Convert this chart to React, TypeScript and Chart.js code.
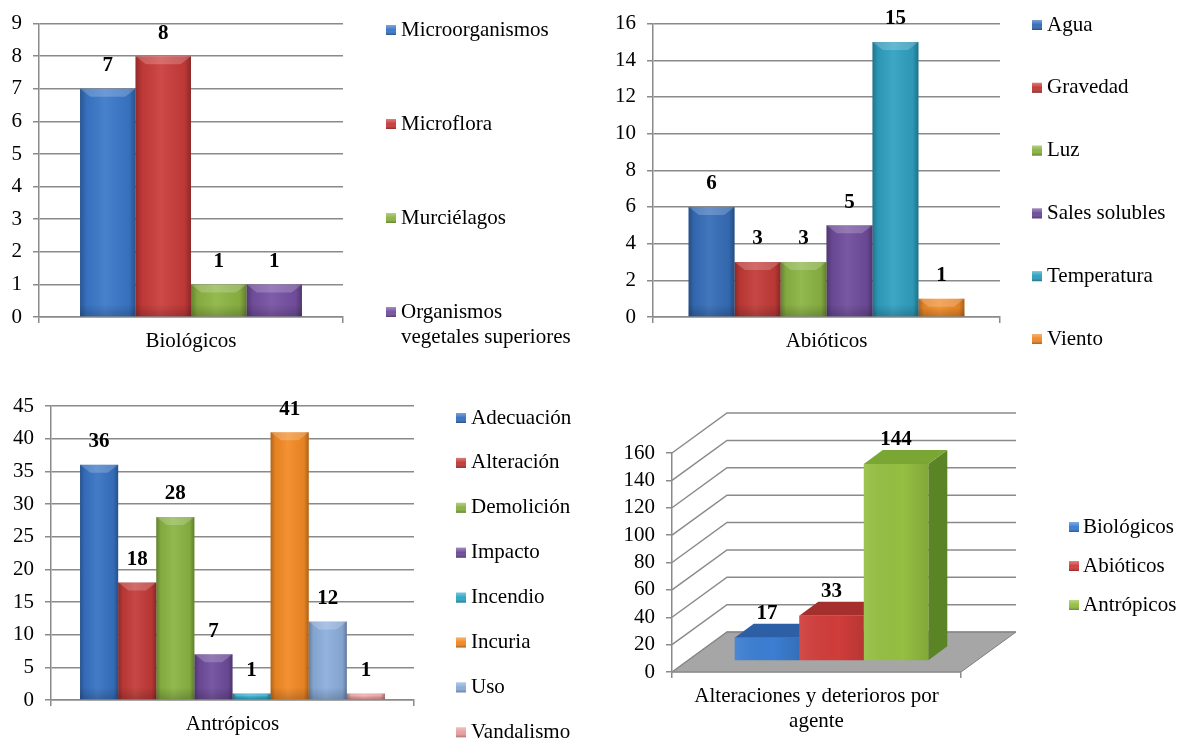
import React, { useEffect, useRef } from 'react';
import { Chart, registerables } from 'chart.js';

Chart.register(...registerables);

// ---------------- data ----------------
const bioCategories = ['Biológicos'];
const bioSeries = ['Microorganismos', 'Microflora', 'Murciélagos', 'Organismos vegetales superiores'];
const bioValues = [7, 8, 1, 1];
const bioTickMax = 9;
const bioTickStep = 1;

const abioCategories = ['Abióticos'];
const abioSeries = ['Agua', 'Gravedad', 'Luz', 'Sales solubles', 'Temperatura', 'Viento'];
const abioValues = [6, 3, 3, 5, 15, 1];
const abioTickMax = 16;
const abioTickStep = 2;

const antroCategories = ['Antrópicos'];
const antroSeries = ['Adecuación', 'Alteración', 'Demolición', 'Impacto', 'Incendio', 'Incuria', 'Uso', 'Vandalismo'];
const antroValues = [36, 18, 28, 7, 1, 41, 12, 1];
const antroTickMax = 45;
const antroTickStep = 5;

const totalCategories = [['Alteraciones y deterioros por', 'agente']];
const totalSeries = ['Biológicos', 'Abióticos', 'Antrópicos'];
const totalValues = [17, 33, 144];
const totalTickMax = 160;
const totalTickStep = 20;

// ---------------- styles ----------------
const FONT = "'Liberation Serif', 'Times New Roman', Times, serif";
const FS = 21;
const GRID = '#8a8a8a';
const GW = 1.5;

const bioColors = ['#3a78c9', '#c93c3a', '#8db543', '#7651a3'];
const abioColors = ['#356db8', '#c23a37', '#8ab443', '#6f4c9c', '#2fa0c0', '#f08a28'];
const antroColors = ['#3772c2', '#c23a37', '#8ab443', '#6f4c9c', '#2fa8c9', '#f38a24', '#8caedd', '#ea9f9f'];
const totalColors = ['#3c7ed2', '#d03d3b', '#94bf42'];
const totalTopColors = ['#2c5fa6', '#a52f2c', '#7aa634'];
const totalSideColors = ['#24508e', '#8a2624', '#5b8427'];

type Area = { l: number; r: number; t: number; b: number };
type LegendPos = { box: number; text: number; y0: number; step: number; wrap: number };
type Spec = {
  left: number; top: number; width: number; height: number;
  area: Area;
  categories: any[];
  series: string[];
  values: number[];
  colors: string[];
  max: number; step: number;
  catPct: number;
  legend: LegendPos;
  threeD?: boolean;
};

function swatch(ctx: CanvasRenderingContext2D, x: number, y: number, s: number, color: string) {
  ctx.fillStyle = color;
  ctx.fillRect(x, y, s, s);
  const g = ctx.createLinearGradient(x, y, x, y + s);
  g.addColorStop(0, 'rgba(255,255,255,0.35)');
  g.addColorStop(0.5, 'rgba(255,255,255,0)');
  g.addColorStop(1, 'rgba(0,0,0,0.3)');
  ctx.fillStyle = g;
  ctx.fillRect(x, y, s, s);
}

function legendPlugin(pos: LegendPos) {
  return {
    id: 'sideLegend',
    afterDraw(chart: any) {
      const ctx: CanvasRenderingContext2D = chart.ctx;
      ctx.save();
      ctx.font = `${FS}px ${FONT}`;
      ctx.textBaseline = 'middle';
      ctx.textAlign = 'left';
      chart.data.datasets.forEach((ds: any, i: number) => {
        const y = pos.y0 + i * pos.step;
        const words = String(ds.label).split(' ');
        const lines: string[] = [];
        let cur = '';
        words.forEach((w) => {
          const t = cur ? cur + ' ' + w : w;
          if (cur && ctx.measureText(t).width > pos.wrap) {
            lines.push(cur);
            cur = w;
          } else cur = t;
        });
        lines.push(cur);
        swatch(ctx, pos.box, y - 5, 10, ds.backgroundColor);
        ctx.fillStyle = '#000';
        lines.forEach((ln, k) => ctx.fillText(ln, pos.text, y + k * 25));
      });
      ctx.restore();
    },
  };
}

const flatBarPlugin = {
  id: 'flatBars',
  afterDatasetsDraw(chart: any) {
    const ctx: CanvasRenderingContext2D = chart.ctx;
    ctx.save();
    chart.data.datasets.forEach((ds: any, i: number) => {
      chart.getDatasetMeta(i).data.forEach((el: any, j: number) => {
        const p = el.getProps(['x', 'y', 'base', 'width'], true);
        const l = p.x - p.width / 2;
        const r = p.x + p.width / 2;
        const t = p.y;
        const b = p.base;
        const h = b - t;
        const g = ctx.createLinearGradient(l, 0, r, 0);
        g.addColorStop(0, 'rgba(0,0,0,0.28)');
        g.addColorStop(0.12, 'rgba(0,0,0,0.06)');
        g.addColorStop(0.45, 'rgba(255,255,255,0.07)');
        g.addColorStop(0.88, 'rgba(0,0,0,0.06)');
        g.addColorStop(1, 'rgba(0,0,0,0.3)');
        ctx.fillStyle = g;
        ctx.fillRect(l, t, r - l, h);
        const bh = Math.min(8, h / 2);
        ctx.fillStyle = 'rgba(255,255,255,0.2)';
        ctx.beginPath();
        ctx.moveTo(l, t);
        ctx.lineTo(r, t);
        ctx.lineTo(r - bh * 1.3, t + bh);
        ctx.lineTo(l + bh * 1.3, t + bh);
        ctx.closePath();
        ctx.fill();
        const gb = ctx.createLinearGradient(0, b - Math.min(12, h / 2), 0, b);
        gb.addColorStop(0, 'rgba(0,0,0,0)');
        gb.addColorStop(1, 'rgba(0,0,0,0.18)');
        ctx.fillStyle = gb;
        ctx.fillRect(l, b - Math.min(12, h / 2), r - l, Math.min(12, h / 2));
        // value label
        ctx.fillStyle = '#000';
        ctx.font = `bold ${FS}px ${FONT}`;
        ctx.textAlign = 'center';
        ctx.textBaseline = 'middle';
        ctx.fillText(String(ds.data[j]), p.x, t - 23);
      });
    });
    ctx.restore();
  },
};

function threeDPlugin(topColors: string[], sideColors: string[]) {
  const WALL_DX = 55, WALL_DY = -40;
  const BAR_DX = 15, BAR_DY = -11;
  const DEPTH_DX = 19, DEPTH_DY = -14;
  return {
    id: 'threeD',
    beforeDatasetsDraw(chart: any) {
      const ctx: CanvasRenderingContext2D = chart.ctx;
      const { left, right } = chart.chartArea;
      const ys = chart.scales.y;
      const y0 = ys.getPixelForValue(0);
      ctx.save();
      ctx.beginPath();
      ctx.moveTo(left, y0);
      ctx.lineTo(right, y0);
      ctx.lineTo(right + WALL_DX, y0 + WALL_DY);
      ctx.lineTo(left + WALL_DX, y0 + WALL_DY);
      ctx.closePath();
      ctx.fillStyle = '#a6a6a6';
      ctx.fill();
      ctx.strokeStyle = '#7f7f7f';
      ctx.lineWidth = 1;
      ctx.stroke();
      ctx.strokeStyle = GRID;
      ctx.lineWidth = GW;
      ys.ticks.forEach((t: any) => {
        const y = ys.getPixelForValue(t.value);
        ctx.beginPath();
        ctx.moveTo(left, y);
        ctx.lineTo(left + WALL_DX, y + WALL_DY);
        ctx.lineTo(right + WALL_DX, y + WALL_DY);
        ctx.stroke();
      });
      ctx.restore();

      ctx.save();
      ctx.translate(BAR_DX, BAR_DY);
      chart.data.datasets.forEach((ds: any, i: number) => {
        chart.getDatasetMeta(i).data.forEach((el: any) => {
          const p = el.getProps(['x', 'y', 'base', 'width'], true);
          const l = p.x - p.width / 2;
          const r = p.x + p.width / 2;
          ctx.fillStyle = sideColors[i];
          ctx.beginPath();
          ctx.moveTo(r, p.y);
          ctx.lineTo(r + DEPTH_DX, p.y + DEPTH_DY);
          ctx.lineTo(r + DEPTH_DX, p.base + DEPTH_DY);
          ctx.lineTo(r, p.base);
          ctx.closePath();
          ctx.fill();
          ctx.fillStyle = topColors[i];
          ctx.beginPath();
          ctx.moveTo(l, p.y);
          ctx.lineTo(r, p.y);
          ctx.lineTo(r + DEPTH_DX, p.y + DEPTH_DY);
          ctx.lineTo(l + DEPTH_DX, p.y + DEPTH_DY);
          ctx.closePath();
          ctx.fill();
        });
      });
    },
    afterDatasetsDraw(chart: any) {
      const ctx: CanvasRenderingContext2D = chart.ctx;
      chart.data.datasets.forEach((ds: any, i: number) => {
        chart.getDatasetMeta(i).data.forEach((el: any) => {
          const p = el.getProps(['x', 'y', 'base', 'width'], true);
          const l = p.x - p.width / 2;
          const r = p.x + p.width / 2;
          const g = ctx.createLinearGradient(l, 0, r, 0);
          g.addColorStop(0, 'rgba(255,255,255,0.08)');
          g.addColorStop(0.6, 'rgba(0,0,0,0)');
          g.addColorStop(1, 'rgba(0,0,0,0.12)');
          ctx.fillStyle = g;
          ctx.fillRect(l, p.y, r - l, p.base - p.y);
        });
      });
      ctx.restore();
      ctx.save();
      ctx.fillStyle = '#000';
      ctx.font = `bold ${FS}px ${FONT}`;
      ctx.textAlign = 'center';
      ctx.textBaseline = 'middle';
      chart.data.datasets.forEach((ds: any, i: number) => {
        chart.getDatasetMeta(i).data.forEach((el: any, j: number) => {
          const p = el.getProps(['x', 'y'], true);
          ctx.fillText(String(ds.data[j]), p.x + BAR_DX, p.y + BAR_DY - 24);
        });
      });
      ctx.restore();
    },
  };
}

function buildConfig(spec: Spec): any {
  const yAxisWidth = spec.area.l;
  const xAxisHeight = spec.height - spec.area.b;
  const tickFont = { family: FONT, size: FS, lineHeight: 1.2 };
  return {
    type: 'bar',
    data: {
      labels: spec.categories,
      datasets: spec.series.map((name, i) => ({
        label: name,
        data: [spec.values[i]],
        backgroundColor: spec.colors[i],
        borderWidth: 0,
        categoryPercentage: spec.catPct,
        barPercentage: 1,
        clip: false,
      })),
    },
    options: {
      animation: false,
      responsive: false,
      maintainAspectRatio: false,
      layout: { padding: { left: 0, top: spec.area.t, right: spec.width - spec.area.r, bottom: 0 } },
      plugins: { legend: { display: false }, tooltip: { enabled: false }, title: { display: false } },
      scales: {
        x: {
          grid: { display: true, drawOnChartArea: false, drawTicks: true, tickLength: 6, color: GRID, lineWidth: GW, offset: true },
          border: { display: true, color: GRID, width: GW },
          ticks: { font: tickFont, color: '#000', padding: 6, maxRotation: 0, autoSkip: false },
          afterFit: (s: any) => { s.height = xAxisHeight; },
        },
        y: {
          min: 0,
          max: spec.max,
          ticks: { stepSize: spec.step, autoSkip: false, font: { family: FONT, size: FS }, color: '#000', padding: 11 },
          grid: { color: GRID, lineWidth: GW, tickLength: 6, drawOnChartArea: !spec.threeD, drawTicks: true },
          border: { display: true, color: GRID, width: GW },
          afterFit: (s: any) => { s.width = yAxisWidth; },
        },
      },
    },
    plugins: [
      legendPlugin(spec.legend),
      spec.threeD ? threeDPlugin(totalTopColors, totalSideColors) : flatBarPlugin,
    ],
  };
}

const specs: Spec[] = [
  {
    left: 0, top: 0, width: 590, height: 380,
    area: { l: 39, r: 343, t: 20, b: 317 },
    categories: bioCategories, series: bioSeries, values: bioValues, colors: bioColors,
    max: bioTickMax, step: bioTickStep, catPct: 0.73,
    legend: { box: 386, text: 401, y0: 30, step: 94, wrap: 180 },
  },
  {
    left: 590, top: 0, width: 590, height: 380,
    area: { l: 63, r: 410, t: 22, b: 317 },
    categories: abioCategories, series: abioSeries, values: abioValues, colors: abioColors,
    max: abioTickMax, step: abioTickStep, catPct: 0.795,
    legend: { box: 442, text: 457, y0: 25, step: 62.8, wrap: 180 },
  },
  {
    left: 0, top: 380, width: 620, height: 362,
    area: { l: 51, r: 414, t: 26, b: 320 },
    categories: antroCategories, series: antroSeries, values: antroValues, colors: antroColors,
    max: antroTickMax, step: antroTickStep, catPct: 0.84,
    legend: { box: 456, text: 471, y0: 38, step: 44.9, wrap: 180 },
  },
  {
    left: 620, top: 380, width: 560, height: 362,
    area: { l: 52, r: 341, t: 73, b: 292 },
    categories: totalCategories, series: totalSeries, values: totalValues, colors: totalColors,
    max: totalTickMax, step: totalTickStep, catPct: 0.67,
    legend: { box: 449, text: 463, y0: 147, step: 39, wrap: 180 },
    threeD: true,
  },
];

export default function App() {
  const refs = useRef<(HTMLCanvasElement | null)[]>([]);
  useEffect(() => {
    const charts = specs.map((s, i) => new Chart(refs.current[i] as HTMLCanvasElement, buildConfig(s)));
    return () => charts.forEach((c) => c.destroy());
  }, []);
  return (
    <div style={{ position: 'fixed', left: 0, top: 0, width: 1180, height: 742, background: '#fff', overflow: 'hidden' }}>
      {specs.map((s, i) => (
        <canvas
          key={i}
          ref={(el) => { refs.current[i] = el; }}
          width={s.width}
          height={s.height}
          style={{ position: 'absolute', left: s.left, top: s.top, width: s.width, height: s.height }}
        />
      ))}
    </div>
  );
}
